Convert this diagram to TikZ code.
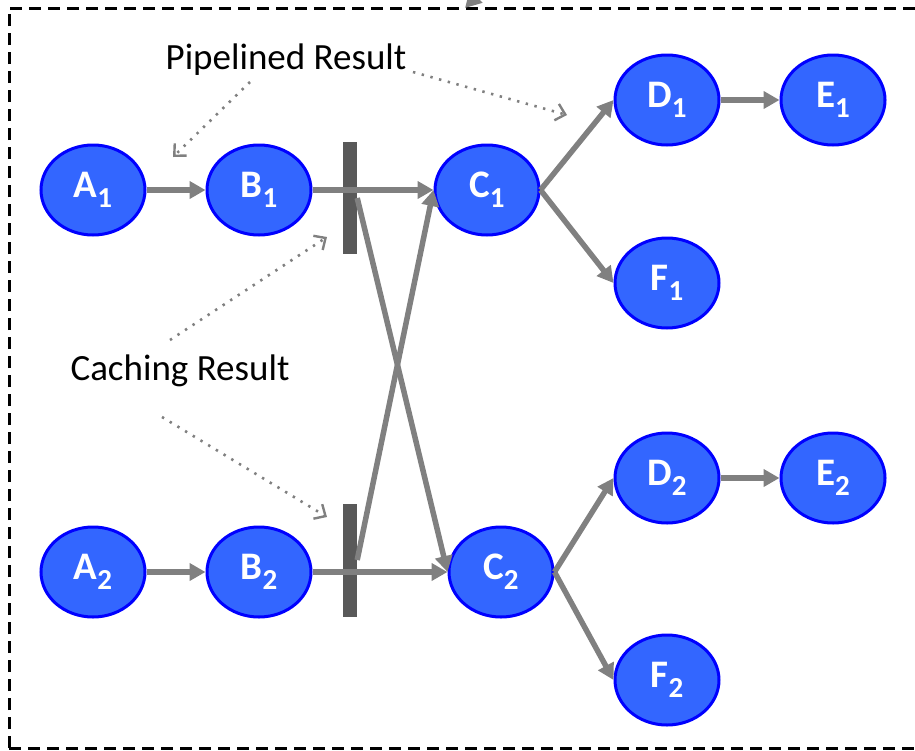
\documentclass[tikz,border=0pt]{standalone}
\usepackage{fontspec}
\setmainfont{Carlito}
\usetikzlibrary{arrows.meta,shapes.geometric}

\definecolor{nodefill}{HTML}{3366FF}
\definecolor{nodeline}{HTML}{0000FF}
\definecolor{flow}{HTML}{808080}
\definecolor{barc}{HTML}{595959}

% stage name with a lowered index digit
\newcommand{\stagelabel}[2]{#1\raisebox{-0.25em}{\fontsize{29}{29}\selectfont #2}}

\begin{document}
\begin{tikzpicture}[x=1pt,y=-1pt,
  stage/.style={ellipse, draw=nodeline, fill=nodefill, line width=3pt,
    minimum width=104pt, minimum height=90pt, inner sep=0pt, text=white,
    font=\fontsize{39}{39}\selectfont\bfseries},
  flowarrow/.style={draw=flow, line width=5.5pt, -{Triangle[length=16pt,width=17pt]}},
  noteline/.style={draw=flow, line width=2.6pt, dash pattern=on 2.4pt off 6.6pt,
    -{Straight Barb[length=9pt,width=17pt,line width=2.4pt]}},
  note/.style={font=\fontsize{37}{37}\selectfont, text=black, inner sep=0pt},
  cachebar/.style={fill=barc, draw=none, minimum width=14pt, inner sep=0pt}
]
\clip (0,0) rectangle (915,750);

% frame
\draw[line width=3pt, dash pattern=on 12pt off 7pt] (9,748) -- (9,8) -- (930,8);
\draw[line width=3pt, dash pattern=on 12pt off 7pt] (9,748) -- (930,748);

% stages
\node[stage] (a1) at (93,190)  {\stagelabel{A}{1}};
\node[stage] (b1) at (259,190) {\stagelabel{B}{1}};
\node[stage] (c1) at (487,190) {\stagelabel{C}{1}};
\node[stage] (d1) at (667,100) {\stagelabel{D}{1}};
\node[stage] (e1) at (833,100) {\stagelabel{E}{1}};
\node[stage] (f1) at (667,283) {\stagelabel{F}{1}};

\node[stage] (a2) at (93,572)  {\stagelabel{A}{2}};
\node[stage] (b2) at (259,572) {\stagelabel{B}{2}};
\node[stage] (c2) at (501,572) {\stagelabel{C}{2}};
\node[stage] (d2) at (667,478) {\stagelabel{D}{2}};
\node[stage] (e2) at (833,478) {\stagelabel{E}{2}};
\node[stage] (f2) at (667,680) {\stagelabel{F}{2}};

% cache barriers
\node[cachebar, minimum height=112pt] (bar1) at (350,198) {};
\node[cachebar, minimum height=113pt] (bar2) at (350,560) {};

% data flow
\draw[flowarrow] (a1) -- (b1);
\draw[flowarrow] (b1) -- (c1);
\draw[flowarrow] (a2) -- (b2);
\draw[flowarrow] (b2) -- (c2);
\draw[flowarrow] (bar1.east) -- (c2.west);
\draw[flowarrow] (bar2.east) -- (c1.west);
\draw[flowarrow] (c1.east) -- (d1.west);
\draw[flowarrow] (c1.east) -- (f1.west);
\draw[flowarrow] (d1) -- (e1);
\draw[flowarrow] (c2.east) -- (d2.west);
\draw[flowarrow] (c2.east) -- (f2.west);
\draw[flowarrow] (d2) -- (e2);

% incoming arrow at the upper edge
\coordinate (topsrc) at (494,-22);
\coordinate (toptip) at (465,8);
\draw[flowarrow] (topsrc) -- (toptip);

% annotations
\node[note] (pipe) at (286,60) {Pipelined Result};
\node[note] (cache) at (180,371) {Caching Result};

\coordinate (p1s) at (250,82);  \coordinate (p1t) at (173,157);
\coordinate (p2s) at (413,72);  \coordinate (p2t) at (567,115);
\coordinate (c1s) at (170,340); \coordinate (c1t) at (327,237);
\coordinate (c2s) at (162,417); \coordinate (c2t) at (327,517);

\draw[noteline] (p1s) -- (p1t);
\draw[noteline] (p2s) -- (p2t);
\draw[noteline] (c1s) -- (c1t);
\draw[noteline] (c2s) -- (c2t);
\end{tikzpicture}
\end{document}
